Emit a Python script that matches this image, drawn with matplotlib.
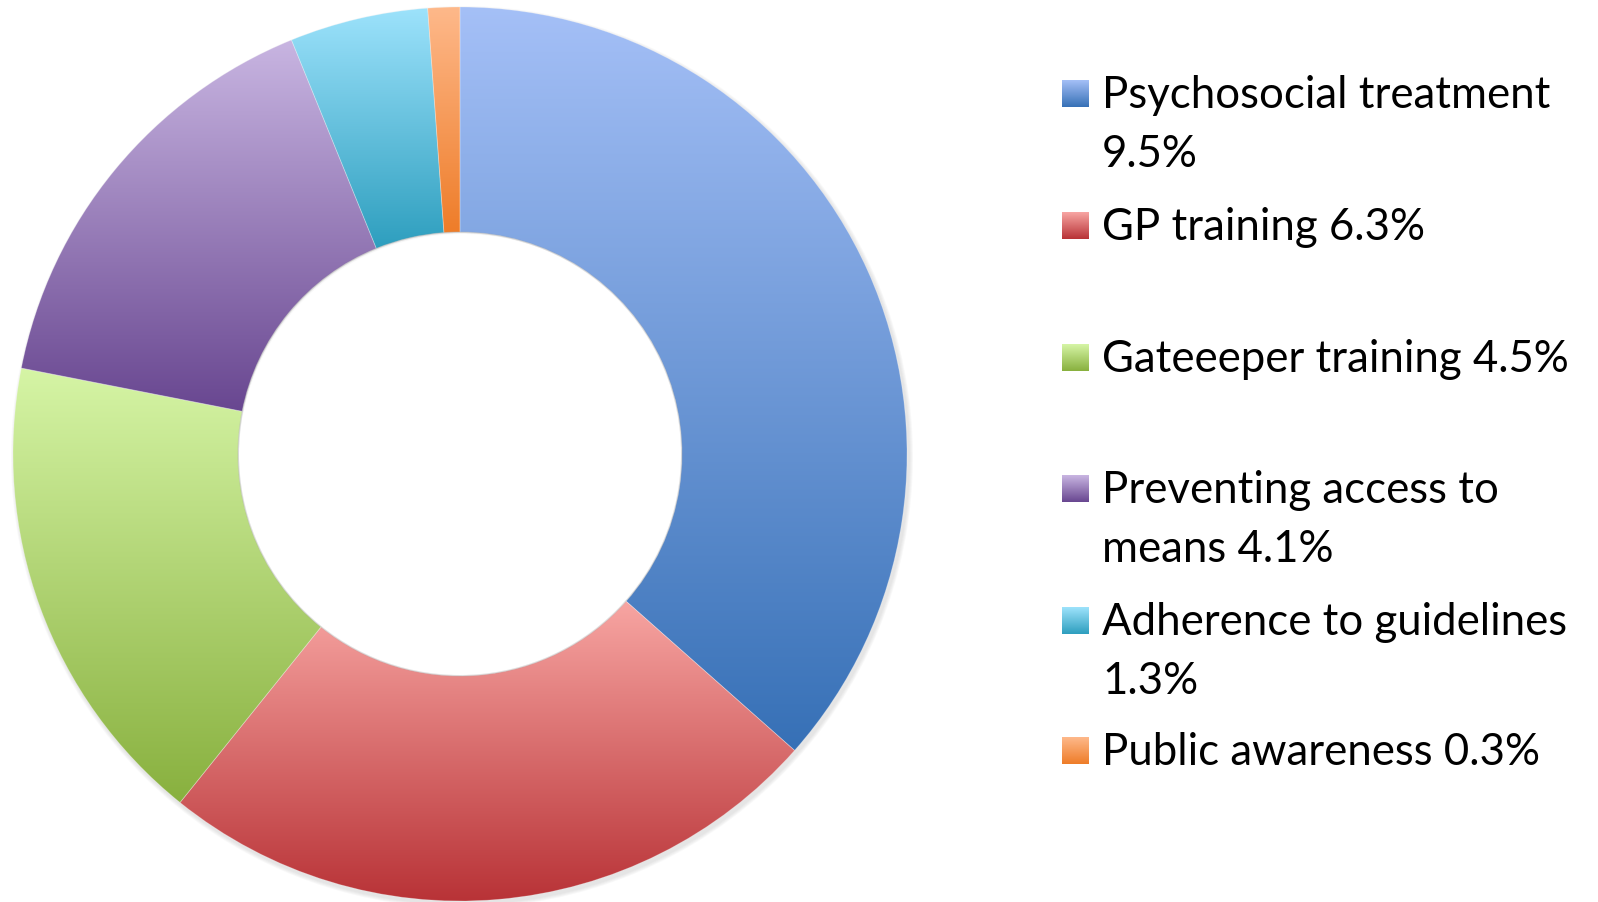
import numpy as np
import matplotlib
matplotlib.use("Agg")
import matplotlib.pyplot as plt
from matplotlib.patches import Wedge
from matplotlib.colors import to_rgb

categories = ["Psychosocial treatment", "GP training", "Gateeeper training",
              "Preventing access to means", "Adherence to guidelines", "Public awareness"]
values = [9.5, 6.3, 4.5, 4.1, 1.3, 0.3]
legend_labels = ["Psychosocial treatment\n9.5%", "GP training 6.3%", "Gateeeper training 4.5%",
                 "Preventing access to\nmeans 4.1%", "Adherence to guidelines\n1.3%",
                 "Public awareness 0.3%"]
top_colors = ["#A5C0F7", "#F8A6A3", "#D6F5A6", "#C9B6E2", "#9EE3FC", "#FEB98B"]
bottom_colors = ["#3670B6", "#B83236", "#88B03E", "#684690", "#2D9EBE", "#EE7C28"]

W, H = 1598, 903
fig = plt.figure(figsize=(W / 100, H / 100), dpi=100)
ax = fig.add_axes([0, 0, 1, 1])
ax.set_xlim(0, W)
ax.set_ylim(0, H)
ax.set_aspect("equal")
ax.axis("off")

cx, cy = 460, H - 455
R = 447
r = 222


def gradient_img(top, bottom, n=256):
    t = np.linspace(0, 1, n)[:, None]
    c0 = np.array(to_rgb(top))
    c1 = np.array(to_rgb(bottom))
    img = c0[None, :] * (1 - t) + c1[None, :] * t
    return img[:, None, :]


# soft outer shadow (ring only)
for i in range(4):
    ax.add_patch(Wedge((cx + 2, cy - 3), R + 1 + i, 0, 360, width=R - r,
                       facecolor="#808080", alpha=0.05, edgecolor="none", zorder=1))

total = sum(values)
start = 90.0
for v, tc, bc in zip(values, top_colors, bottom_colors):
    sweep = 360.0 * v / total
    theta2 = start
    theta1 = start - sweep
    w = Wedge((cx, cy), R, theta1, theta2, width=R - r, facecolor="none",
              edgecolor="none", zorder=2)
    ax.add_patch(w)
    angs = np.linspace(np.radians(theta1), np.radians(theta2), 400)
    ys = np.concatenate([cy + R * np.sin(angs), cy + r * np.sin(angs)])
    xs = np.concatenate([cx + R * np.cos(angs), cx + r * np.cos(angs)])
    im = ax.imshow(gradient_img(tc, bc),
                   extent=[xs.min() - 2, xs.max() + 2, ys.min() - 2, ys.max() + 2],
                   origin="upper", aspect="auto", zorder=2, interpolation="bilinear")
    im.set_clip_path(w)
    ax.add_patch(Wedge((cx, cy), R, theta1, theta2, width=R - r, facecolor="none",
                       edgecolor=(1, 1, 1, 0.25), linewidth=0.6, zorder=3))
    start = theta1

# inner subtle shadow edge
ax.add_patch(Wedge((cx, cy), r + 0.5, 0, 360, width=1.5, facecolor=(0.5, 0.5, 0.5, 0.25),
                   edgecolor="none", zorder=3))

# legend
rows_y = [108, 240, 372, 503, 635, 765]  # baseline of first line (pixels from top)
line_gap = 59
sq = 27
x_sq = 1062
x_txt = 1102
for lab, tc, bc, yb in zip(legend_labels, top_colors, bottom_colors, rows_y):
    ax.imshow(gradient_img(tc, bc), extent=[x_sq, x_sq + sq, H - yb, H - (yb - sq)],
              origin="upper", aspect="auto", zorder=4, interpolation="bilinear")
    for k, line in enumerate(lab.split("\n")):
        ax.text(x_txt, H - (yb + k * line_gap), line, fontsize=31.5,
                family=["Lato", "DejaVu Sans"], va="baseline", ha="left",
                color="black", zorder=5)

ax.set_xlim(0, W)
ax.set_ylim(0, H)
fig.savefig("out.png", dpi=100)
